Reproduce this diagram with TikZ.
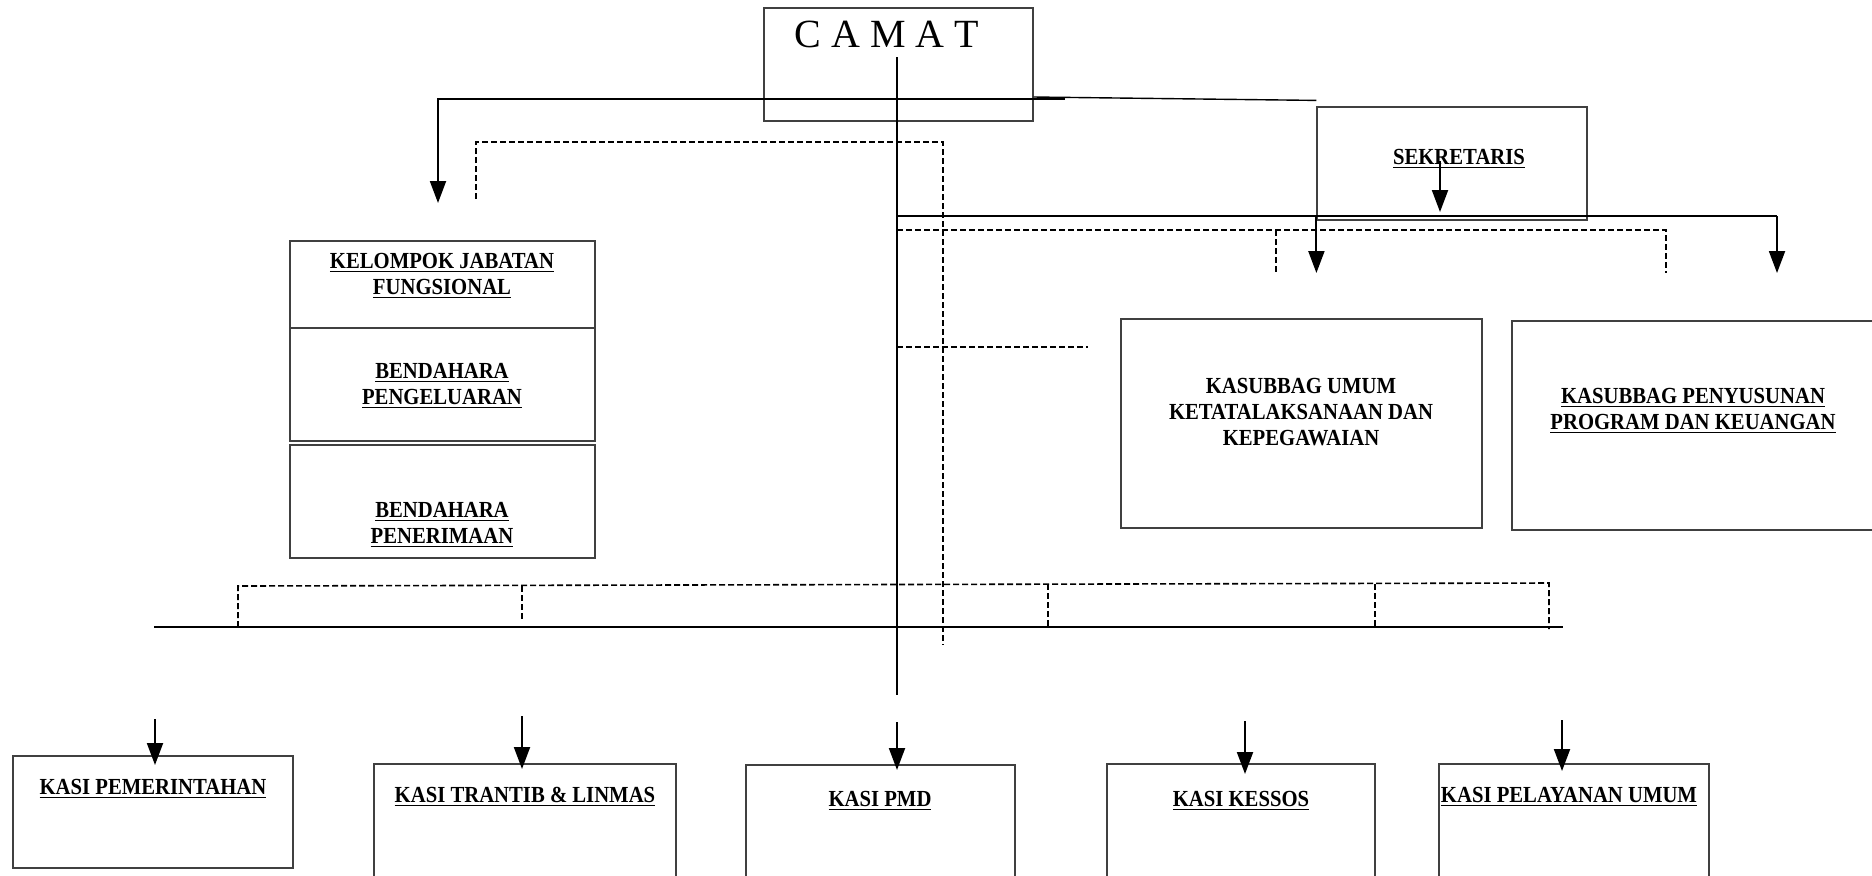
\documentclass[tikz,border=0pt]{standalone}
\usepackage{fontspec}
\setmainfont{Liberation Serif}
\newfontfamily\orgfont[FakeStretch=0.9]{Liberation Serif}
\usetikzlibrary{arrows.meta}

\tikzset{
    box/.style={draw=black!75, line width=0.6pt, inner sep=0pt},
    lbl/.style={font=\orgfont\bfseries\fontsize{11.5}{13}\selectfont, align=center, inner sep=0pt},
    link/.style={line width=1pt},
    thinlink/.style={line width=0.7pt},
    dashlink/.style={line width=0.8pt, dash pattern=on 3pt off 1.5pt},
    arr/.style={link, -{Triangle[width=8pt,length=11pt]}}
}

\begin{document}
\begin{tikzpicture}[x=0.5pt,y=-0.5pt]
    \useasboundingbox (0,0) rectangle (1872,875);

    % Boxes
    \node[box, minimum width=134.5pt, minimum height=56.5pt] (camat) at (898.5,64.5) {};
    \node[box, minimum width=135pt, minimum height=56.5pt] (sek) at (1452,163.5) {};
    \node[box, minimum width=152.5pt, minimum height=43.5pt] (kjf) at (442.5,284.5) {};
    \node[box, minimum width=152.5pt, minimum height=56.5pt] (bpg) at (442.5,384.5) {};
    \node[box, minimum width=152.5pt, minimum height=56.5pt] (bpn) at (442.5,501.5) {};
    \node[box, minimum width=180.5pt, minimum height=104.5pt] (ku) at (1301.5,423.5) {};
    \node[box, minimum width=189pt, minimum height=104.5pt] (kp) at (1701,425.5) {};
    \node[box, minimum width=140pt, minimum height=56pt] (pem) at (153,812) {};
    \node[box, minimum width=151pt, minimum height=60.5pt] (tr) at (525,824.5) {};
    \node[box, minimum width=134.5pt, minimum height=60pt] (pmd) at (880.5,825) {};
    \node[box, minimum width=134pt, minimum height=60.5pt] (kes) at (1241,824.5) {};
    \node[box, minimum width=135pt, minimum height=60.5pt] (pel) at (1574,824.5) {};

    % Texts
    \node[inner sep=0pt, font=\fontsize{20}{24}\selectfont] (camatT) at (887,34) {C A M A T};
    \node[lbl] (sekT) at (1459,159) {\underline{SEKRETARIS}};
    \node[lbl] (kjfT) at (442,276) {\underline{KELOMPOK JABATAN}\\\underline{FUNGSIONAL}};
    \node[lbl] (bpgT) at (442,386) {\underline{BENDAHARA}\\\underline{PENGELUARAN}};
    \node[lbl] (bpnT) at (442,525) {\underline{BENDAHARA}\\\underline{PENERIMAAN}};
    \node[lbl] (kuT) at (1301,412) {KASUBBAG UMUM\\KETATALAKSANAAN DAN\\KEPEGAWAIAN};
    \node[lbl] (kpT) at (1693,411) {\underline{KASUBBAG PENYUSUNAN}\\\underline{PROGRAM DAN KEUANGAN}};
    \node[lbl] (pemT) at (153,789) {\underline{KASI PEMERINTAHAN}};
    \node[lbl] (trT) at (525,797) {\underline{KASI TRANTIB \& LINMAS}};
    \node[lbl] (pmdT) at (880,801) {\underline{KASI PMD}};
    \node[lbl] (kesT) at (1241,801) {\underline{KASI KESSOS}};
    \node[lbl] (pelT) at (1569,797) {\underline{KASI PELAYANAN UMUM}};

    % Main line from the camat down
    \coordinate (spineTop) at (897,57);
    \coordinate (spineEnd) at (897,695);
    \draw[link] (spineTop) -- (spineEnd);

    % Camat to kelompok jabatan and sekretaris
    \draw[arr] (1065,99) -- (438,99) -- (438,203);
    \draw[thinlink] (camat.east |- 0,97) -- ([yshift=3pt]sek.north west);

    % Dashed line of coordination
    \draw[dashlink] (476,199) -- (476,142) -- (943,142) -- (943,645);

    % Sekretaris to the kasubbag
    \draw[arr] (1440,161) -- (1440,212);
    \draw[link] (spineTop |- 0,216) -- (1777,216);
    \draw[arr] (sek.south west |- 0,216) -- (sek.south west |- 0,273);
    \draw[arr] (1777,216) -- (1777,273);
    \draw[dashlink] (spineTop |- 0,230) -- (1666,230) -- (1666,273);
    \draw[dashlink] (1276,230) -- (1276,273);
    \draw[dashlink] (spineTop |- 0,347) -- (1088,347);

    % Bus to the kasi
    \draw[link] (154,627) -- (1563,627);
    \draw[dashlink] (238,627) -- (238,586) -- (1549,583) -- (1549,629);
    \draw[dashlink] (522,586) -- (522,622);
    \draw[dashlink] (1048,584) -- (1048,627);
    \draw[dashlink] (1375,584) -- (1375,629);

    % Arrows into the kasi boxes
    \draw[arr] (155,719) -- (155,765);
    \draw[arr] (522,716) -- (522,769);
    \draw[arr] (spineEnd |- 0,722) -- (spineEnd |- 0,770);
    \draw[arr] (1245,721) -- (1245,774);
    \draw[arr] (1562,720) -- (1562,771);
\end{tikzpicture}
\end{document}
